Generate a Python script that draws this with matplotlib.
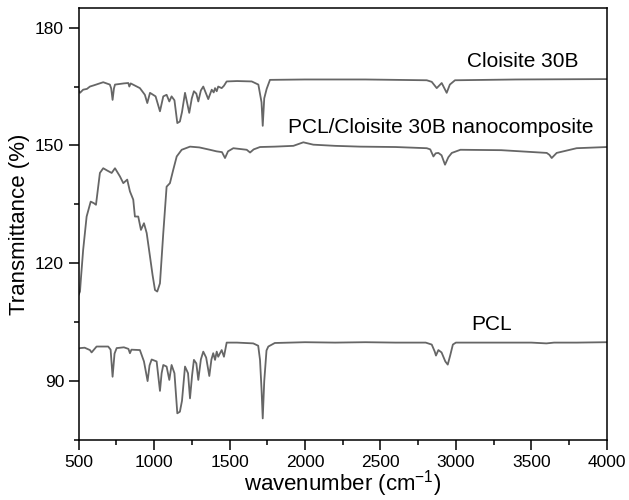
import matplotlib.pyplot as plt
from matplotlib.ticker import MultipleLocator

plt.rcParams['font.family'] = ['Liberation Sans', 'DejaVu Sans']

# PCL spectrum (bottom)
pcl_wn = [500, 509, 540, 575, 586, 619, 696, 712, 725, 738, 752, 800, 830, 840, 850,
          906, 933, 957, 970, 984, 1017, 1039, 1050, 1061, 1083, 1101, 1116, 1135,
          1154, 1171, 1185, 1205, 1225, 1238, 1252, 1264, 1280, 1293, 1310, 1326,
          1345, 1366, 1380, 1392, 1404, 1415, 1425, 1448, 1463, 1481, 1550, 1657,
          1690, 1702, 1712, 1720, 1730, 1745, 1757, 1800, 2000, 2200, 2400, 2600,
          2800, 2840, 2860, 2868, 2884, 2905, 2930, 2946, 2962, 2980, 3000, 3500,
          3600, 3650, 3800, 4000]
pcl_t = [98.2, 98.4, 98.5, 97.9, 97.3, 98.8, 98.8, 98.0, 91.1, 97.0, 98.4, 98.6, 98.2,
         97.1, 98.0, 97.9, 95.0, 90.0, 94.0, 95.5, 95.0, 87.5, 92.0, 94.1, 93.7, 90.3,
         94.1, 92.0, 81.8, 82.2, 85.0, 93.7, 92.0, 85.6, 91.5, 95.4, 94.5, 90.3, 95.5,
         97.5, 96.0, 91.3, 95.5, 97.1, 95.4, 97.5, 96.2, 97.9, 96.2, 99.8, 99.8, 99.6,
         99.0, 95.4, 88.0, 80.5, 90.0, 97.8, 98.8, 99.7, 99.9, 99.8, 99.9, 99.8,
         99.8, 99.3, 97.5, 96.5, 97.9, 97.3, 95.0, 94.2, 96.5, 99.3, 99.8, 99.8,
         99.6, 99.8, 99.8, 99.9]

# PCL/Cloisite 30B nanocomposite (middle)
nano_wn = [500, 509, 515, 530, 553, 580, 601, 615, 641, 663, 690, 719, 741, 774, 796,
           822, 840, 862, 873, 895, 913, 933, 951, 973, 990, 1006, 1021, 1039, 1061,
           1083, 1105, 1127, 1150, 1183, 1238, 1300, 1370, 1414, 1450, 1470, 1490,
           1525, 1614, 1636, 1660, 1702, 1800, 1923, 1989, 2055, 2200, 2365, 2600,
           2807, 2830, 2851, 2866, 2884, 2905, 2928, 2950, 2973, 3030, 3300, 3602,
           3620, 3635, 3668, 3800, 4000]
nano_t = [112.0, 112.8, 116.0, 123.4, 131.9, 135.7, 135.3, 134.9, 143.0, 144.2, 143.6,
          143.0, 144.2, 142.1, 140.4, 141.3, 138.3, 136.2, 131.9, 131.9, 128.5, 130.2,
          127.7, 121.7, 117.0, 113.2, 112.8, 114.9, 127.7, 139.5, 140.4, 143.8, 147.2,
          148.9, 149.7, 149.5, 148.9, 148.5, 148.3, 146.8, 148.5, 149.3, 148.9, 148.2,
          149.0, 149.6, 149.7, 149.9, 150.8, 150.2, 149.9, 149.7, 149.6, 149.3, 149.0,
          147.2, 148.0, 148.1, 147.5, 145.1, 147.0, 148.1, 148.9, 148.8, 148.1, 147.6,
          146.8, 148.1, 149.3, 149.6]

# Cloisite 30B (top)
clo_wn = [500, 509, 530, 555, 575, 600, 663, 707, 716, 725, 734, 741, 800, 829, 836, 845,
          906, 939, 955, 973, 1010, 1039, 1061, 1083, 1101, 1116, 1135, 1154, 1171, 1185,
          1205, 1233, 1250, 1264, 1280, 1293, 1310, 1326, 1359, 1382, 1395, 1404, 1415,
          1425, 1448, 1463, 1481, 1550, 1647, 1691, 1712, 1720, 1730, 1746, 1768, 2000,
          2400, 2807, 2840, 2873, 2906, 2939, 2960, 2994, 3400, 4000]
clo_t = [164.0, 163.4, 164.2, 164.4, 165.0, 165.3, 166.1, 165.5, 164.5, 161.6, 164.5,
         165.5, 165.8, 165.9, 165.0, 165.8, 164.6, 162.9, 160.8, 163.4, 162.5, 158.7,
         162.5, 162.9, 161.2, 162.5, 161.5, 155.7, 156.1, 158.5, 163.4, 158.3, 162.0,
         163.8, 163.2, 161.2, 164.0, 165.0, 161.8, 164.2, 163.5, 164.6, 163.8, 165.0,
         164.6, 165.2, 166.3, 166.4, 166.3, 165.5, 161.0, 155.0, 162.0, 164.4, 166.7,
         166.8, 166.8, 166.6, 166.2, 164.6, 165.9, 163.4, 165.5, 166.6, 166.8, 166.9]

labels = ['Cloisite 30B', 'PCL/Cloisite 30B nanocomposite', 'PCL']

fig = plt.figure(figsize=(6.29, 5.0), dpi=100)
ax = fig.add_axes([0.125, 0.12, 0.8397, 0.864])

line_color = '#666666'
ax.plot(clo_wn, clo_t, color=line_color, lw=1.3)
ax.plot(nano_wn, nano_t, color=line_color, lw=1.3)
ax.plot(pcl_wn, pcl_t, color=line_color, lw=1.3)

ax.text(3445, 171.3, labels[0], fontsize=15, ha='center', va='center')
ax.text(1890, 154.5, labels[1], fontsize=15, ha='left', va='center')
ax.text(3238, 104.5, labels[2], fontsize=15, ha='center', va='center')

ax.set_xlim(500, 4000)
ax.set_ylim(75, 185)
ax.xaxis.set_major_locator(MultipleLocator(500))
ax.xaxis.set_minor_locator(MultipleLocator(250))
ax.yaxis.set_major_locator(MultipleLocator(30))
ax.yaxis.set_minor_locator(MultipleLocator(15))
ax.set_yticks([90, 120, 150, 180])
ax.tick_params(which='major', direction='out', length=7, width=1.1, labelsize=12.5)
ax.tick_params(which='minor', direction='out', length=3.5, width=1.1)
ax.tick_params(top=False, right=False, which='both')
for s in ax.spines.values():
    s.set_linewidth(1.1)

ax.set_xlabel('wavenumber (cm$^{\\mathregular{-1}}$)', fontsize=16)
ax.xaxis.set_label_coords(0.5, -0.066)
ax.set_ylabel('Transmittance (%)', fontsize=16)
ax.yaxis.set_label_coords(-0.092, 0.5)

fig.savefig('out.png', dpi=100)
